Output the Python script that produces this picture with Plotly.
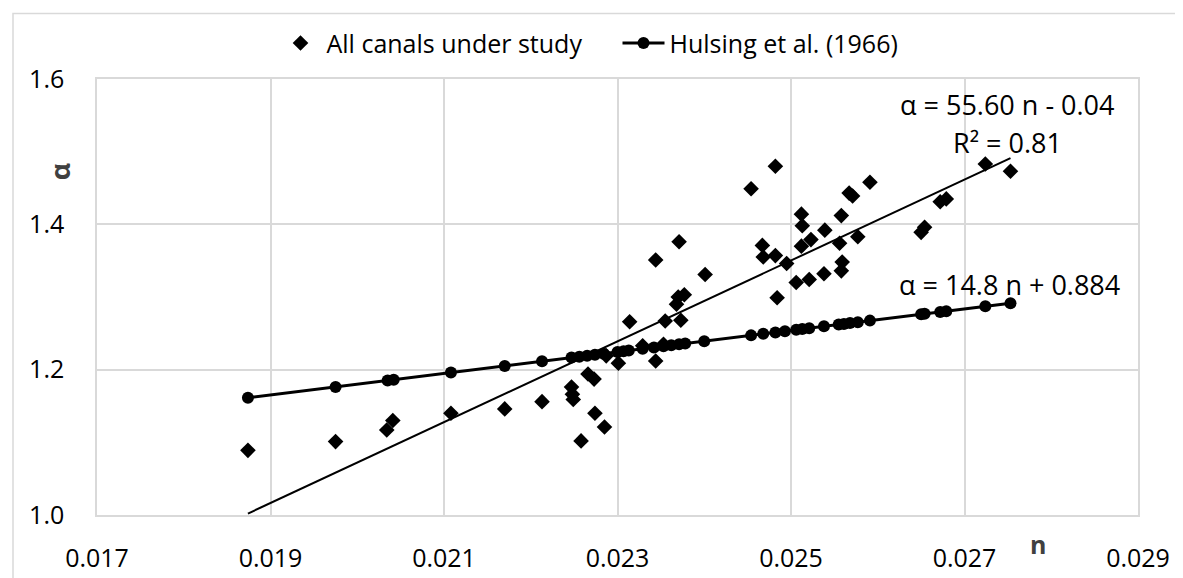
import plotly.graph_objects as go

# All canals under study (diamonds)
canal_n = [0.01874, 0.01975, 0.02034, 0.02041, 0.02108, 0.02170, 0.02213, 0.02247, 0.02248, 0.02249,
           0.02258, 0.02266, 0.02273, 0.02274, 0.02285, 0.02287, 0.02301, 0.02314, 0.02329, 0.02344,
           0.02353, 0.02355, 0.02373, 0.02344, 0.02368, 0.02371, 0.02370, 0.02377, 0.02401, 0.02454,
           0.02467, 0.02468, 0.02482, 0.02482, 0.02484, 0.02495, 0.02506, 0.02512, 0.02513, 0.02512,
           0.02521, 0.02523, 0.02538, 0.02539, 0.02556, 0.02558, 0.02558, 0.02559, 0.02567, 0.02571,
           0.02577, 0.02591, 0.02650, 0.02654, 0.02672, 0.02679, 0.02724, 0.02753]
canal_alpha = [1.089, 1.101, 1.117, 1.130, 1.140, 1.146, 1.156, 1.176, 1.166, 1.159,
               1.102, 1.194, 1.187, 1.140, 1.121, 1.219, 1.209, 1.266, 1.233, 1.212,
               1.235, 1.267, 1.268, 1.351, 1.290, 1.376, 1.300, 1.303, 1.331, 1.449,
               1.371, 1.355, 1.480, 1.357, 1.299, 1.346, 1.320, 1.414, 1.398, 1.370,
               1.324, 1.379, 1.332, 1.392, 1.374, 1.412, 1.336, 1.348, 1.443, 1.439,
               1.383, 1.458, 1.389, 1.396, 1.431, 1.435, 1.483, 1.473]

# Hulsing et al. (1966)
hulsing_n = [0.01874, 0.01975, 0.02035, 0.02042, 0.02108, 0.02170, 0.02213, 0.02247, 0.02256, 0.02265,
             0.02274, 0.02284, 0.02300, 0.02307, 0.02313, 0.02329, 0.02342, 0.02353, 0.02362, 0.02371,
             0.02378, 0.02400, 0.02454, 0.02468, 0.02482, 0.02493, 0.02506, 0.02513, 0.02521, 0.02538,
             0.02555, 0.02561, 0.02568, 0.02577, 0.02591, 0.02650, 0.02654, 0.02672, 0.02679, 0.02724,
             0.02753]
hulsing_alpha = [1.1614, 1.1763, 1.1852, 1.1862, 1.1960, 1.2052, 1.2115, 1.2166, 1.2179, 1.2192,
                 1.2206, 1.2220, 1.2244, 1.2254, 1.2263, 1.2287, 1.2306, 1.2322, 1.2336, 1.2349,
                 1.2359, 1.2392, 1.2472, 1.2493, 1.2513, 1.2530, 1.2549, 1.2559, 1.2571, 1.2596,
                 1.2621, 1.2630, 1.2641, 1.2654, 1.2675, 1.2762, 1.2768, 1.2795, 1.2805, 1.2872,
                 1.2914]

# Linear trendline of all canals (endpoints)
trend_n = [0.01874, 0.02753]
trend_alpha = [1.002, 1.491]

x_ticks = [0.017, 0.019, 0.021, 0.023, 0.025, 0.027, 0.029]
y_ticks = [1.0, 1.2, 1.4, 1.6]

FONT = "Open Sans"
FS = 25
FA = 27

fig = go.Figure()
fig.add_trace(go.Scatter(x=canal_n, y=canal_alpha, mode="markers", name="All canals under study",
                         marker=dict(symbol="diamond", size=12, color="black")))
fig.add_trace(go.Scatter(x=hulsing_n, y=hulsing_alpha, mode="lines+markers", name="Hulsing et al. (1966)",
                         line=dict(color="black", width=3),
                         marker=dict(symbol="circle", size=12, color="black")))
fig.add_trace(go.Scatter(x=trend_n, y=trend_alpha, mode="lines", showlegend=False,
                         line=dict(color="black", width=2)))

fig.update_layout(
    width=1183, height=578,
    margin=dict(l=89, r=53, t=69, b=69),
    paper_bgcolor="white", plot_bgcolor="white",
    font=dict(family=FONT, size=FS, color="black"),
    legend=dict(orientation="h", x=0.5, xanchor="center", y=1.082, yanchor="middle",
                font=dict(size=FS), traceorder="normal", itemwidth=42, entrywidth=286),
    showlegend=True,
)
fig.update_xaxes(range=[0.017, 0.029], tickvals=x_ticks, tickformat=".3f",
                 showgrid=True, gridcolor="#d9d9d9", gridwidth=1.5,
                 showline=True, linecolor="#d9d9d9", linewidth=1.5, mirror=True,
                 zeroline=False, ticks="", ticklabelstandoff=20)
fig.update_yaxes(range=[1.0, 1.6], tickvals=y_ticks, tickformat=".1f",
                 showgrid=True, gridcolor="#d9d9d9", gridwidth=1.5,
                 showline=True, linecolor="#d9d9d9", linewidth=1.5, mirror=True,
                 zeroline=False, ticks="", ticklabelstandoff=26)

fig.add_annotation(x=0.02749, y=1.565, xref="x", yref="y", text="α = 55.60 n - 0.04",
                   showarrow=False, font=dict(size=FA))
fig.add_annotation(x=0.02749, y=1.513, xref="x", yref="y", text="R² = 0.81",
                   showarrow=False, font=dict(size=FA))
fig.add_annotation(x=0.02752, y=1.317, xref="x", yref="y", text="α = 14.8 n + 0.884",
                   showarrow=False, font=dict(size=FA))

# axis titles
fig.add_annotation(x=(31 - 89) / 1041, y=1 - (152 - 69) / 440, xref="paper", yref="paper",
                   text="<b>α</b>", textangle=-90, showarrow=False,
                   font=dict(size=FS + 2, color="#404040"))
fig.add_annotation(x=(1040 - 89) / 1041, y=-(557 - 509) / 440, xref="paper", yref="paper",
                   text="<b>n</b>", showarrow=False, font=dict(size=FS, color="#404040"))

# chart area border
fig.add_shape(type="rect", xref="paper", yref="paper",
              x0=(5 - 89) / 1041, x1=(1180 - 89) / 1041,
              y0=1 + (69 - 576) / 440, y1=1 + (69 - 3) / 440,
              line=dict(color="#d9d9d9", width=1.5), layer="below")

fig.write_html("out.html")
